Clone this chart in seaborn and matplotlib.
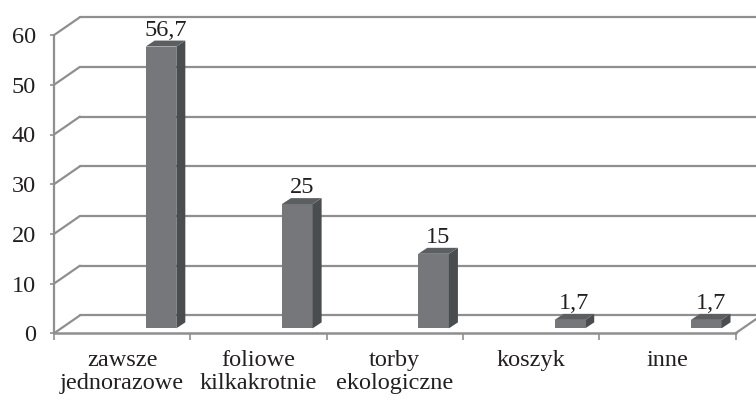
import numpy as np
import pandas as pd
import matplotlib
matplotlib.use("Agg")
import matplotlib.pyplot as plt
from matplotlib.patches import Polygon
import seaborn as sns

# ================= DATA =================
categories = ["zawsze\njednorazowe", "foliowe\nkilkakrotnie", "torby\nekologiczne", "koszyk", "inne"]
values = [56.7, 25, 15, 1.7, 1.7]
value_labels = ["56,7", "25", "15", "1,7", "1,7"]
y_ticks = [0, 10, 20, 30, 40, 50, 60]

# ================= STYLE =================
sns.set_style("white")
plt.rcParams["font.family"] = ["Liberation Serif", "DejaVu Serif"]
text_col = "#231f20"
grid_col = "#8f8f8f"
front_col, side_col, top_col = "#75777a", "#4a4d50", "#5c5f62"
fsize = 17.5

# fake 3D offsets (data units)
wall_dx, wall_dy = 0.19, 3.6
bar_dx, bar_dy = 0.066, 1.2
bar_shift, bar_w, bar_base = 0.285, 0.225, 1.0

n = len(categories)
px_cat, px_val = 136.3, 4.97

fig = plt.figure(figsize=(7.56, 4.01), dpi=100)
ax = fig.add_axes([54 / 756, 67.7 / 401, 1 - 54 / 756, 1 - 67.7 / 401])

# ================= BARS =================
df = pd.DataFrame({"pos": np.arange(n) + bar_shift, "value": values})
sns.barplot(data=df, x="pos", y="value", native_scale=True, width=bar_w,
            color=front_col, saturation=1, linewidth=0, ax=ax, zorder=3)

for p, lab in zip(ax.patches, value_labels):
    p.set_y(bar_base)
    x0, w, h = p.get_x(), p.get_width(), p.get_height()
    x1, top = x0 + w, bar_base + h
    ax.add_patch(Polygon([(x1, bar_base), (x1 + bar_dx, bar_base + bar_dy),
                          (x1 + bar_dx, top + bar_dy), (x1, top)],
                         closed=True, facecolor=side_col, edgecolor="none", zorder=3))
    ax.add_patch(Polygon([(x0, top), (x1, top), (x1 + bar_dx, top + bar_dy),
                          (x0 + bar_dx, top + bar_dy)],
                         closed=True, facecolor=top_col, edgecolor="none", zorder=3))
    ax.text(x0 + w / 2 + bar_dx / 2, top + bar_dy, lab, ha="center", va="bottom",
            fontsize=fsize, color=text_col, zorder=4)

ax.set_xlim(-0.5, -0.5 + (756 - 54) / px_cat)
ax.set_ylim(0, 333.3 / px_val)

# ================= WALLS / GRID =================
x_left, x_right = -0.5, n - 0.5
x_end = ax.get_xlim()[1] + 0.2
for v in y_ticks:
    ax.plot([x_left + wall_dx, x_end], [v + wall_dy, v + wall_dy],
            color=grid_col, lw=1.6, zorder=1, clip_on=False)
    ax.plot([x_left, x_left + wall_dx], [v, v + wall_dy],
            color=grid_col, lw=1.6, zorder=1, clip_on=False)
# floor front edge and right edge
ax.plot([x_left, x_right], [0, 0], color=grid_col, lw=1.8, zorder=2, clip_on=False)
ax.plot([x_right, x_right + wall_dx], [0, wall_dy], color=grid_col, lw=1.6, zorder=2, clip_on=False)
# front vertical axis
ax.plot([x_left, x_left], [0, y_ticks[-1]], color=grid_col, lw=1.6, zorder=2, clip_on=False)

# ================= TICKS =================
ax.set_yticks(y_ticks)
ax.set_yticklabels([str(t) for t in y_ticks])
ax.set_xticks(np.arange(n))
ax.set_xticklabels(categories, linespacing=1.15)
ax.set_xticks(np.arange(n + 1) - 0.5, minor=True)
ax.tick_params(axis="y", left=True, length=3, width=1.2, color=grid_col, pad=10,
               labelsize=fsize, labelcolor=text_col)
ax.tick_params(axis="x", which="major", bottom=False, length=0, pad=12,
               labelsize=fsize, labelcolor=text_col)
ax.tick_params(axis="x", which="minor", bottom=True, length=5, width=1.2, color=grid_col)
ax.set_xlabel("")
ax.set_ylabel("")
for s in ax.spines.values():
    s.set_visible(False)
ax.grid(False)

fig.savefig("out.png", dpi=100)
